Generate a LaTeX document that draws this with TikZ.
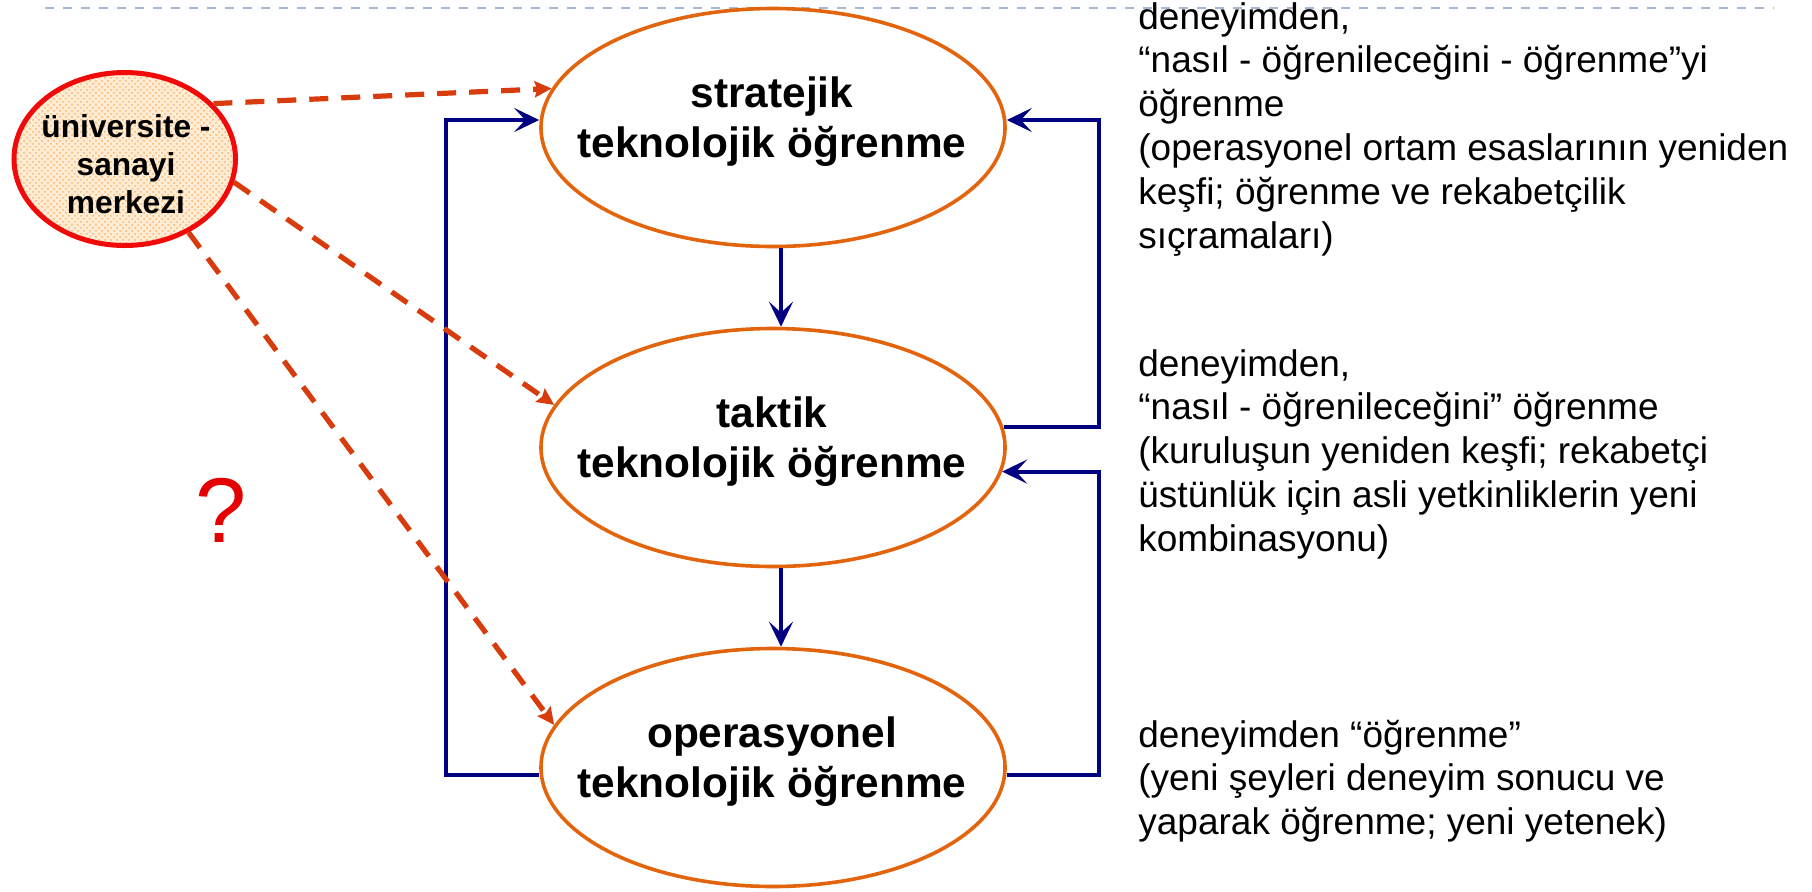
\documentclass[tikz,border=0pt]{standalone}
\usepackage{fontspec}
\setmainfont{Liberation Sans}
\usetikzlibrary{shapes.geometric,arrows.meta,patterns}

\definecolor{navyb}{RGB}{0,0,128}
\definecolor{ellor}{RGB}{226,100,12}
\definecolor{dashred}{RGB}{216,60,12}
\definecolor{unired}{RGB}{240,10,10}
\definecolor{qred}{RGB}{228,0,0}
\definecolor{dotor}{RGB}{250,180,105}
\definecolor{peach}{RGB}{255,236,212}
\definecolor{topdash}{RGB}{165,185,210}

\begin{document}
\begin{tikzpicture}[x=0.5pt,y=-0.5pt,
  level/.style={ellipse, draw=ellor, line width=1.8pt, minimum width=232pt, minimum height=119pt, inner sep=0pt},
  lvltxt/.style={inner sep=0pt, anchor=base, font=\bfseries\fontsize{21.2pt}{25pt}\selectfont},
  unitxt/.style={inner sep=0pt, anchor=base, font=\bfseries\fontsize{15.85pt}{19pt}\selectfont},
  desc/.style={inner sep=0pt, anchor=base west, font=\fontsize{18.5pt}{21.9pt}\selectfont},
  bline/.style={draw=navyb, line width=2pt, -{Stealth[length=12.5pt,width=12pt,inset=5.5pt]}},
  rdash/.style={draw=dashred, line width=2.6pt, dash pattern=on 9.5pt off 6.5pt, -{Stealth[length=8.5pt,width=8pt,inset=1.2pt]}},
  topline/.style={draw=topdash, line width=1pt, dash pattern=on 4.3pt off 4.7pt}
]
\useasboundingbox (0,0) rectangle (1812,891);

% top dashed rule
\coordinate (TL) at (45,8);
\coordinate (TR) at (1774,8);
\draw[topline] (TL) -- (TR);

% ellipses
\node[level] (s) at (773,127.5) {};
\node[level] (t) at (773,447.5) {};
\node[level] (o) at (773,767.5) {};
\node[ellipse, draw=unired, line width=2.5pt, minimum width=110.75pt, minimum height=86.5pt, inner sep=0pt,
      preaction={fill=peach}, pattern=crosshatch dots, pattern color=dotor] (u) at (124.75,159) {};

% ellipse texts
\node[lvltxt] (stxt) at (772,107) {\begin{tabular}[t]{@{}c@{}}stratejik\\teknolojik öğrenme\end{tabular}};
\node[lvltxt] (ttxt) at (772,427) {\begin{tabular}[t]{@{}c@{}}taktik\\teknolojik öğrenme\end{tabular}};
\node[lvltxt] (otxt) at (772,747) {\begin{tabular}[t]{@{}c@{}}operasyonel\\teknolojik öğrenme\end{tabular}};
\node[unitxt] (utxt) at (126,137) {\begin{tabular}[t]{@{}c@{}}üniversite -\\sanayi\\merkezi\end{tabular}};

% question mark
\node[inner sep=0pt, anchor=base, text=qred, font=\fontsize{46pt}{46pt}\selectfont] (q) at (221,542) {?};

% right-hand descriptions
\node[desc] (d1) at (1138,29) {\begin{tabular}[t]{@{}l@{}}deneyimden,\\“nasıl - öğrenileceğini - öğrenme”yi\\öğrenme\\(operasyonel ortam esaslarının yeniden\\keşfi; öğrenme ve rekabetçilik\\sıçramaları)\end{tabular}};
\node[desc] (d2) at (1138,376) {\begin{tabular}[t]{@{}l@{}}deneyimden,\\“nasıl - öğrenileceğini” öğrenme\\(kuruluşun yeniden keşfi; rekabetçi\\üstünlük için asli yetkinliklerin yeni\\kombinasyonu)\end{tabular}};
\node[desc] (d3) at (1138,747) {\begin{tabular}[t]{@{}l@{}}deneyimden “öğrenme”\\(yeni şeyleri deneyim sonucu ve\\yaparak öğrenme; yeni yetenek)\end{tabular}};

% bend points
\coordinate (Lt) at (446,120);
\coordinate (Ru) at (1099,120);
\coordinate (Rl) at (1099,472);

% blue connectors
\draw[bline] ([xshift=4pt]s.south) -- ([xshift=4pt]t.north);
\draw[bline] ([xshift=4pt]t.south) -- ([xshift=4pt]o.north);
\draw[bline] ([yshift=-3.75pt]o.west) -| (Lt) |- ([yshift=3.75pt]s.west);
\draw[bline] (t.5.9) -| (Ru) |- ([yshift=3.75pt]s.east);
\draw[bline] ([yshift=-3.75pt]o.east) -| (Rl) |- (t.-6);

% red dashed connectors
\draw[rdash] (u.32) -- (s.170);
\draw[rdash] (u.-12) -- (t.169);
\draw[rdash] (u.-49) -- (o.169);
\end{tikzpicture}
\end{document}
